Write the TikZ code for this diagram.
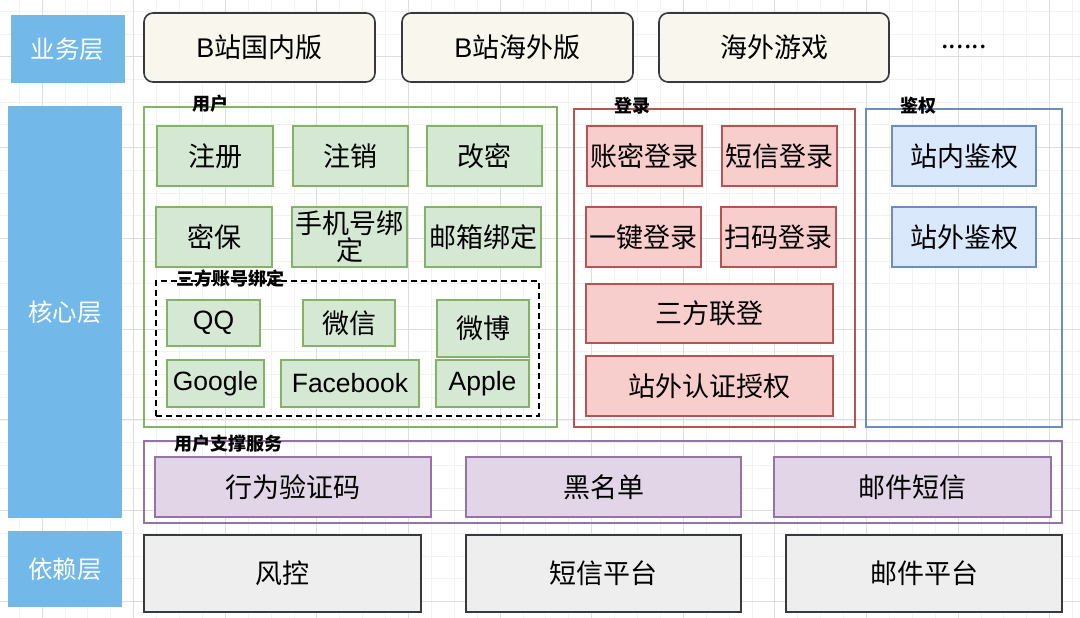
\documentclass[tikz,border=0pt]{standalone}
\usepackage{fontspec}
\setmainfont{Noto Sans CJK SC}
\newfontfamily\latinsans{Liberation Sans}
\begin{document}
\begin{tikzpicture}[x=1pt,y=-1pt,
  big/.style={font=\fontsize{27}{29}\selectfont, inner sep=0pt, align=center},
  lat/.style={font=\latinsans\fontsize{26.5}{29}\selectfont},
  lay/.style={fill=layblue, draw=none, text=white, font=\fontsize{24.5}{27}\selectfont, inner sep=0pt},
  top/.style={big, draw=topdraw, fill=topfill, line width=1.6pt, rounded corners=9pt},
  gbox/.style={big, draw=gdraw, fill=gfill, line width=1.8pt},
  rbox/.style={big, draw=rdraw, fill=rfill, line width=1.8pt},
  bbox/.style={big, draw=bdraw, fill=bfill, line width=1.8pt},
  pbox/.style={big, draw=pdraw, fill=pfill, line width=1.8pt},
  kbox/.style={big, draw=topdraw, fill=kfill, line width=1.8pt},
  cont/.style={draw=#1, line width=1.6pt, fill=none, inner sep=0pt},
  lbl/.style={font=\fontsize{18}{20}\selectfont\bfseries, inner sep=0pt},
  minorg/.style={draw=gridminor, line width=0.8pt},
  majorg/.style={draw=gridmajor, line width=0.9pt}
]
\definecolor{layblue}{HTML}{72B8E8}
\definecolor{topdraw}{HTML}{36393D}
\definecolor{topfill}{HTML}{F9F7ED}
\definecolor{gdraw}{HTML}{82B366}
\definecolor{gfill}{HTML}{D5E8D4}
\definecolor{rdraw}{HTML}{B85450}
\definecolor{rfill}{HTML}{F8CECC}
\definecolor{bdraw}{HTML}{6C8EBF}
\definecolor{bfill}{HTML}{DAE8FC}
\definecolor{pdraw}{HTML}{9673A6}
\definecolor{pfill}{HTML}{E1D5E7}
\definecolor{kfill}{HTML}{EEEEEE}
\definecolor{gridminor}{HTML}{F2F2F2}
\definecolor{gridmajor}{HTML}{DEDEDE}

\useasboundingbox[fill=white] (0,0) rectangle (1080,618);

% grid
\foreach \i in {-1,...,46} { \draw[minorg] ({42+\i*22.9},0) -- ({42+\i*22.9},618); }
\foreach \i in {-2,...,25} { \draw[minorg] (0,{56.7+\i*22.7}) -- (1080,{56.7+\i*22.7}); }
\foreach \i in {0,...,11} { \draw[majorg] ({42+\i*91.6},0) -- ({42+\i*91.6},618); }
\foreach \i in {0,...,6} { \draw[majorg] (0,{56.7+\i*90.8}) -- (1080,{56.7+\i*90.8}); }

% layer labels
\node[lay, minimum width=114pt, minimum height=68pt] (L1) at (67.5,49) {业务层};
\node[lay, minimum width=114pt, minimum height=412pt] (L2) at (65,312) {核心层};
\node[lay, minimum width=114pt, minimum height=76pt] (L3) at (65,569) {依赖层};

% business layer
\node[top, minimum width=231pt, minimum height=69pt] (b1) at (259.5,47.5) {{\latinsans B}站国内版};
\node[top, minimum width=231pt, minimum height=69pt] (b2) at (517.5,47.5) {{\latinsans B}站海外版};
\node[top, minimum width=230pt, minimum height=69pt] (b3) at (774,47.5) {海外游戏};
\node[big] (dots) at (964,47) {......};

% containers
\node[cont=gdraw, minimum width=413pt, minimum height=320pt] (cuser) at (350.5,267) {};
\node[cont=rdraw, minimum width=281pt, minimum height=318pt] (clogin) at (714.5,268) {};
\node[cont=bdraw, minimum width=196pt, minimum height=318pt] (cauth) at (964,268) {};
\node[cont=pdraw, minimum width=918pt, minimum height=82pt] (csup) at (603,482) {};
\node[draw=black, dashed, dash pattern=on 6pt off 4pt, line width=1.6pt, minimum width=383pt, minimum height=135pt, inner sep=0pt] (cthird) at (347.5,348.5) {};

\node[lbl] (tuser) at (210,104) {用户};
\node[lbl] (tlogin) at (632,106) {登录};
\node[lbl] (tauth) at (918,106) {鉴权};
\node[lbl] (tthird) at (230,279) {三方账号绑定};
\node[lbl] (tsup) at (228,444) {用户支撑服务};

% user
\node[gbox, minimum width=116pt, minimum height=60pt] (u1) at (215,156) {注册};
\node[gbox, minimum width=115pt, minimum height=60pt] (u2) at (350.5,156) {注销};
\node[gbox, minimum width=115pt, minimum height=60pt] (u3) at (484.5,156) {改密};
\node[gbox, minimum width=116pt, minimum height=60pt] (u4) at (214,237) {密保};
\node[gbox, minimum width=115pt, minimum height=60pt, font=\fontsize{27}{27}\selectfont] (u5) at (349.5,237) {手机号绑\\定};
\node[gbox, minimum width=116pt, minimum height=60pt] (u6) at (483,237) {邮箱绑定};

\node[gbox, lat, minimum width=93pt, minimum height=46pt] (q1) at (213.5,323) {QQ};
\node[gbox, minimum width=92pt, minimum height=46pt] (q2) at (349,323) {微信};
\node[gbox, minimum width=92pt, minimum height=57pt] (q3) at (483,328.5) {微博};
\node[gbox, lat, minimum width=97pt, minimum height=47pt] (q4) at (215.5,383.5) {Google};
\node[gbox, lat, minimum width=138pt, minimum height=47pt] (q5) at (350,383.5) {Facebook};
\node[gbox, lat, minimum width=93pt, minimum height=47pt] (q6) at (482.5,383.5) {Apple};

% login
\node[rbox, minimum width=115pt, minimum height=60pt] (r1) at (644.5,156) {账密登录};
\node[rbox, minimum width=115pt, minimum height=60pt] (r2) at (779.5,156) {短信登录};
\node[rbox, minimum width=115pt, minimum height=60pt] (r3) at (643.5,237) {一键登录};
\node[rbox, minimum width=115pt, minimum height=60pt] (r4) at (778.5,237) {扫码登录};
\node[rbox, minimum width=247pt, minimum height=59pt] (r5) at (709.5,313.5) {三方联登};
\node[rbox, minimum width=247pt, minimum height=60pt] (r6) at (709.5,386) {站外认证授权};

% auth
\node[bbox, minimum width=144pt, minimum height=60pt] (a1) at (964,156) {站内鉴权};
\node[bbox, minimum width=144pt, minimum height=60pt] (a2) at (964,237) {站外鉴权};

% support
\node[pbox, minimum width=276pt, minimum height=60pt] (s1) at (293,487) {行为验证码};
\node[pbox, minimum width=275pt, minimum height=60pt] (s2) at (603.5,487) {黑名单};
\node[pbox, minimum width=277pt, minimum height=60pt] (s3) at (912.5,487) {邮件短信};

% dependency
\node[kbox, minimum width=277pt, minimum height=77pt] (d1) at (282.5,573.5) {风控};
\node[kbox, minimum width=275pt, minimum height=77pt] (d2) at (603.5,573.5) {短信平台};
\node[kbox, minimum width=276pt, minimum height=77pt] (d3) at (924,573.5) {邮件平台};
\end{tikzpicture}
\end{document}
